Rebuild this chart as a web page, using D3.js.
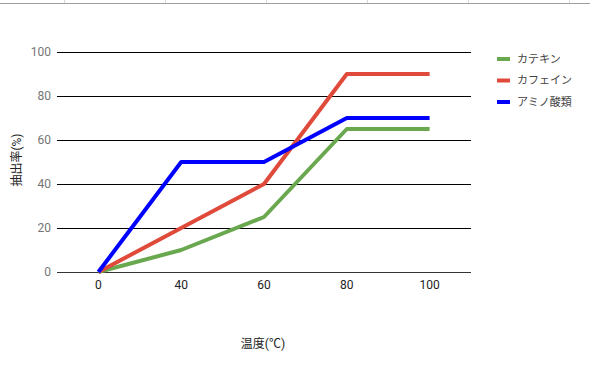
<!DOCTYPE html>
<html>
<head>
<meta charset="utf-8">
<script src="https://cdn.jsdelivr.net/npm/d3@7"></script>
<style>
  body { margin: 0; background: #fff; }
  text { font-family: Roboto, "Noto Sans CJK JP", sans-serif; }
</style>
</head>
<body>
<div id="chart-area"></div>
<script>
var categories = ["0", "40", "60", "80", "100"];
var seriesNames = ["カテキン", "カフェイン", "アミノ酸類"];
var catechin = [0, 10, 25, 65, 65];
var caffeine = [0, 20, 40, 90, 90];
var amino = [0, 50, 50, 70, 70];
var colors = ["#6aa84f", "#e04a3a", "#0000ff"];
var yTicks = [0, 20, 40, 60, 80, 100];

var series = [catechin, caffeine, amino];

var W = 590, H = 368;
var margin = { top: 52, bottom: 96, left: 57, right: 119 };
var width = W - margin.left - margin.right;
var height = H - margin.top - margin.bottom;

var svg = d3.select("#chart-area")
    .append("svg")
        .attr("width", W)
        .attr("height", H);

// spreadsheet cell border strip at top
svg.append("line")
    .attr("x1", 0).attr("x2", W)
    .attr("y1", 3.5).attr("y2", 3.5)
    .attr("stroke", "#9e9e9e")
    .attr("stroke-width", 1);
[64, 165, 266, 367, 468, 569].forEach(function(cx) {
    svg.append("line")
        .attr("x1", cx + 0.5).attr("x2", cx + 0.5)
        .attr("y1", 0).attr("y2", 3)
        .attr("stroke", "#d9d9d9");
});

var g = svg.append("g")
    .attr("transform", "translate(" + margin.left + ", " + margin.top + ")");

var x = d3.scaleBand()
    .domain(categories)
    .range([0, width]);

var y = d3.scaleLinear()
    .domain([0, 100])
    .range([height, 0]);

// gridlines
g.selectAll("line.grid")
    .data(yTicks)
    .enter()
    .append("line")
        .attr("class", "grid")
        .attr("x1", 0)
        .attr("x2", width)
        .attr("y1", function(d) { return Math.round(y(d)) + 0.5; })
        .attr("y2", function(d) { return Math.round(y(d)) + 0.5; })
        .attr("stroke", function(d) { return d === 0 ? "#333" : "#000"; })
        .attr("stroke-width", 1);

// y tick labels
g.selectAll("text.ytick")
    .data(yTicks)
    .enter()
    .append("text")
        .attr("class", "ytick")
        .attr("x", -6)
        .attr("y", function(d) { return y(d); })
        .attr("dy", "0.35em")
        .attr("text-anchor", "end")
        .attr("font-size", "12px")
        .attr("fill", "#757575")
        .text(function(d) { return d; });

// x tick labels
g.selectAll("text.xtick")
    .data(categories)
    .enter()
    .append("text")
        .attr("class", "xtick")
        .attr("x", function(d) { return x(d) + x.bandwidth() / 2; })
        .attr("y", height + 17)
        .attr("text-anchor", "middle")
        .attr("font-size", "12px")
        .attr("fill", "#222")
        .text(function(d) { return d; });

// axis titles
g.append("text")
    .attr("x", width / 2 - 1)
    .attr("y", height + 76)
    .attr("text-anchor", "middle")
    .attr("font-size", "12px")
    .attr("fill", "#222")
    .text("温度(℃)");

g.append("text")
    .attr("transform", "rotate(-90)")
    .attr("x", -(height / 2) + 2)
    .attr("y", -36)
    .attr("text-anchor", "middle")
    .attr("font-size", "12px")
    .attr("fill", "#222")
    .text("抽出率(%)");

// lines
var line = d3.line()
    .x(function(d, i) { return x(categories[i]) + x.bandwidth() / 2; })
    .y(function(d) { return y(d); });

g.selectAll("path.series")
    .data(series)
    .enter()
    .append("path")
        .attr("class", "series")
        .attr("d", line)
        .attr("fill", "none")
        .attr("stroke", function(d, i) { return colors[i]; })
        .attr("stroke-width", 4)
        .attr("stroke-linejoin", "round");

// legend
var legend = svg.selectAll("g.legend")
    .data(seriesNames)
    .enter()
    .append("g")
        .attr("class", "legend")
        .attr("transform", function(d, i) {
            return "translate(497, " + (59 + i * 21.5) + ")";
        });

legend.append("rect")
    .attr("x", 0)
    .attr("y", -2)
    .attr("width", 13)
    .attr("height", 4)
    .attr("fill", function(d, i) { return colors[i]; });

legend.append("text")
    .attr("x", 20)
    .attr("y", 0)
    .attr("dy", "0.35em")
    .attr("font-size", "11px")
    .attr("fill", "#444")
    .text(function(d) { return d; });
</script>
</body>
</html>
